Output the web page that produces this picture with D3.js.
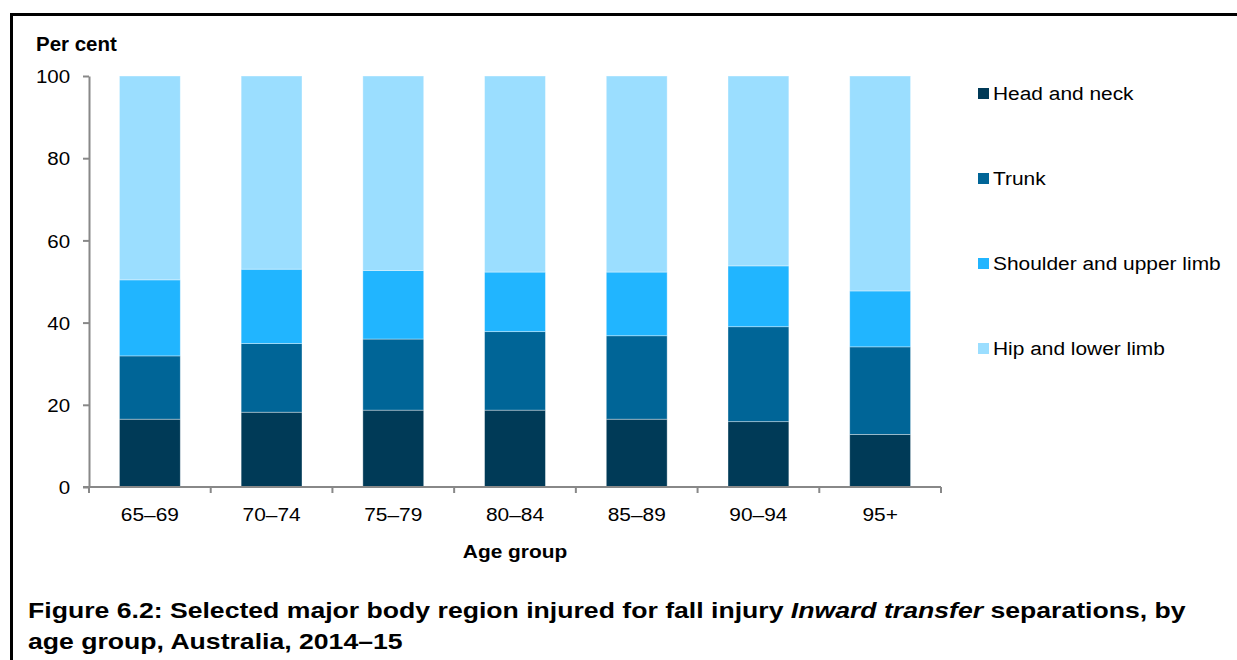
<!DOCTYPE html>
<html>
<head>
<meta charset="utf-8">
<script src="https://cdn.jsdelivr.net/npm/d3@7"></script>
<style>
  body { margin: 0; background: #fff; }
  svg { display: block; font-family: "Liberation Sans", Arial, sans-serif; }
</style>
</head>
<body>
<div id="chart"></div>
<script>
// data (per cent)
var ageGroups = ["65–69", "70–74", "75–79", "80–84", "85–89", "90–94", "95+"];
var regions = ["Head and neck", "Trunk", "Shoulder and upper limb", "Hip and lower limb"];
var headNeck = [16.5, 18.2, 18.7, 18.7, 16.5, 15.9, 12.8];
var trunk = [15.4, 16.7, 17.3, 19.1, 20.3, 23.1, 21.3];
var shoulderUpper = [18.5, 18.1, 16.7, 14.5, 15.5, 14.8, 13.6];
var hipLower = [49.6, 47.0, 47.3, 47.7, 47.7, 46.2, 52.3];
var yTicks = [0, 20, 40, 60, 80, 100];
var colours = ["#003a57", "#006597", "#21b5ff", "#9bdeff"];

var width = 1237, height = 660;
var plotLeft = 89, plotRight = 941, plotTop = 76, plotBottom = 487;

var svg = d3.select("#chart")
	.append("svg")
	.attr("width", width)
	.attr("height", height);

// text in the source is a bit wider than Arial, so stretch it sideways
function placeText(sel, x, y, sx) {
	return sel.attr("x", 0).attr("y", 0)
		.attr("transform", "translate(" + x + "," + y + ") scale(" + sx + ",1)");
}

// frame (only top and left edges fall inside the picture)
svg.append("rect")
	.attr("x", 11.5)
	.attr("y", 14.5)
	.attr("width", width + 20)
	.attr("height", height + 20)
	.attr("fill", "none")
	.attr("stroke", "#000")
	.attr("stroke-width", 3);

var rows = ageGroups.map(function(g, i) {
	return {group: g, "Head and neck": headNeck[i], "Trunk": trunk[i],
		"Shoulder and upper limb": shoulderUpper[i], "Hip and lower limb": hipLower[i]};
});
var series = d3.stack().keys(regions)(rows);

var x = d3.scaleBand()
	.domain(ageGroups)
	.range([plotLeft, plotRight])
	.paddingInner(0.5)
	.paddingOuter(0.25);
var xEdges = d3.scaleBand().domain(ageGroups).range([plotLeft, plotRight]);
var y = d3.scaleLinear()
	.domain([0, 100])
	.range([plotBottom, plotTop]);

// bars
svg.append("g")
	.selectAll("g")
	.data(series)
	.enter()
	.append("g")
	.attr("fill", function(d, i) { return colours[i]; })
	.selectAll("rect")
	.data(function(d) { return d; })
	.enter()
	.append("rect")
	.attr("x", function(d) { return x(d.data.group); })
	.attr("y", function(d) { return y(d[1]); })
	.attr("width", x.bandwidth())
	.attr("height", function(d) { return y(d[0]) - y(d[1]); })
	.attr("stroke", "#fff")
	.attr("stroke-opacity", 0.45)
	.attr("stroke-width", 0.8);

// y axis
var yAxis = svg.append("g")
	.attr("transform", "translate(" + plotLeft + ",0)")
	.call(d3.axisLeft(y).tickValues(yTicks).tickSize(6).tickSizeOuter(0));
yAxis.select(".domain").attr("stroke", "#888").attr("stroke-width", 2);
yAxis.selectAll(".tick line").attr("stroke", "#888").attr("stroke-width", 2);
yAxis.selectAll(".tick text")
	.attr("fill", "#000")
	.attr("x", -17.5)
	.attr("dy", "0.35em")
	.attr("transform", "scale(1.08,1)")
	.style("font-size", "19px")
	.style("font-family", "Liberation Sans, Arial, sans-serif");

// x axis: line plus ticks at category edges
var xg = svg.append("g");
xg.append("line")
	.attr("x1", plotLeft - 6).attr("x2", plotRight)
	.attr("y1", plotBottom).attr("y2", plotBottom)
	.attr("stroke", "#888").attr("stroke-width", 2);
xg.selectAll("line.edge")
	.data(ageGroups.concat(["end"]))
	.enter()
	.append("line")
	.attr("class", "edge")
	.attr("x1", function(d, i) { return i < ageGroups.length ? xEdges(d) : plotRight; })
	.attr("x2", function(d, i) { return i < ageGroups.length ? xEdges(d) : plotRight; })
	.attr("y1", plotBottom)
	.attr("y2", plotBottom + 6)
	.attr("stroke", "#888").attr("stroke-width", 2);
xg.selectAll("text")
	.data(ageGroups)
	.enter()
	.append("text")
	.attr("text-anchor", "middle")
	.style("font-size", "19px")
	.text(function(d) { return d; })
	.each(function(d) {
		placeText(d3.select(this), xEdges(d) + xEdges.bandwidth() / 2, 521, 1.1);
	});

// axis titles
placeText(svg.append("text"), 36, 51, 1.05)
	.style("font-size", "19.5px")
	.style("font-weight", "bold")
	.text("Per cent");
placeText(svg.append("text"), (plotLeft + plotRight) / 2, 558, 1.16)
	.attr("text-anchor", "middle")
	.style("font-size", "18px")
	.style("font-weight", "bold")
	.text("Age group");

// legend
var legendY = [93, 178, 263, 348];
var legend = svg.append("g")
	.selectAll("g")
	.data(regions)
	.enter()
	.append("g")
	.attr("transform", function(d, i) { return "translate(978," + legendY[i] + ")"; });
legend.append("rect")
	.attr("x", 0)
	.attr("y", -5)
	.attr("width", 11)
	.attr("height", 11)
	.attr("fill", function(d, i) { return colours[i]; });
legend.append("text")
	.style("font-size", "19px")
	.text(function(d) { return d; })
	.each(function() { placeText(d3.select(this), 15, 7, 1.1); });

// figure caption
var cap = placeText(svg.append("text"), 28, 618, 1.21)
	.style("font-size", "22px")
	.style("font-weight", "bold");
cap.append("tspan").text("Figure 6.2: Selected major body region injured for fall injury ");
cap.append("tspan").style("font-style", "italic").text("Inward transfer");
cap.append("tspan").text(" separations, by");
placeText(svg.append("text"), 28, 649, 1.21)
	.style("font-size", "22px")
	.style("font-weight", "bold")
	.text("age group, Australia, 2014–15");
</script>
</body>
</html>
